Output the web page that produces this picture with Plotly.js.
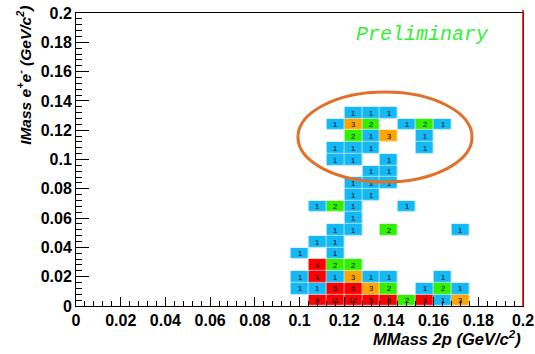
<!DOCTYPE html>
<html>
<head>
<meta charset="utf-8">
<script src="https://cdn.plot.ly/plotly-3.0.1.min.js"></script>
<style>html,body{margin:0;padding:0;background:#fff;}#chart{width:535px;height:354px;}</style>
</head>
<body>
<div id="chart"></div>
<script>
// Bin centres (GeV/c^2) of the filled region
const xCenters = [0.100, 0.108, 0.116, 0.124, 0.132, 0.140, 0.148, 0.156, 0.164, 0.172];
const yCenters = [0.004, 0.012, 0.020, 0.028, 0.036, 0.044, 0.052, 0.060, 0.068,
                  0.076, 0.084, 0.092, 0.100, 0.108, 0.116, 0.124, 0.132];
// Counts per y-bin row (bottom to top), one entry per x bin centre
const row00 = [null, 9, 11, 12, 5, 6, 2, 6, 1, 3];
const row01 = [1, 1, 6, 6, 3, 2, null, 1, 2, 1];
const row02 = [1, 4, 1, 3, 1, 1, null, null, 1, null];
const row03 = [null, 4, 2, 2, null, null, null, null, null, null];
const row04 = [1, null, 1, null, null, null, null, null, null, null];
const row05 = [null, 1, 1, null, null, null, null, null, null, null];
const row06 = [null, null, 1, 1, null, 2, null, null, null, 1];
const row07 = [null, null, null, 1, null, null, null, null, null, null];
const row08 = [null, 1, 2, 1, null, null, 1, null, null, null];
const row09 = [null, null, null, 1, 1, null, null, null, null, null];
const row10 = [null, null, null, 1, 1, 1, null, null, null, null];
const row11 = [null, null, null, null, 1, 1, null, null, null, null];
const row12 = [null, null, 1, 1, null, 1, null, null, null, null];
const row13 = [null, null, 1, 1, 1, null, null, 1, null, null];
const row14 = [null, null, null, 2, 1, 3, null, 1, null, null];
const row15 = [null, null, 1, 3, 2, null, 1, 2, 1, null];
const row16 = [null, null, null, 1, 1, 1, null, null, null, null];

const zRows = [row00, row01, row02, row03, row04, row05, row06, row07, row08,
               row09, row10, row11, row12, row13, row14, row15, row16];
const textRows = zRows.map(r => r.map(v => v === null ? '' : String(v)));

const cBlue = '#13B8F5', cGreen = '#33F000', cOrange = '#FFA500', cRed = '#FF0000';

const heat = {
  type: 'heatmap',
  x: xCenters,
  y: yCenters,
  z: zRows,
  text: textRows,
  texttemplate: '%{text}',
  textfont: {family: 'Liberation Sans, Arial, sans-serif', size: 7.5, color: '#000'},
  zmin: 0.5, zmax: 4.5,
  colorscale: [[0, cBlue], [0.25, cBlue], [0.25, cGreen], [0.5, cGreen],
               [0.5, cOrange], [0.75, cOrange], [0.75, cRed], [1, cRed]],
  showscale: false,
  xgap: 0.6, ygap: 0.6,
  hoverinfo: 'skip'
};

const tickFont = {family: 'Liberation Sans, Arial, sans-serif', size: 16, color: '#000', weight: 'bold'};

const layout = {
  width: 535, height: 354,
  margin: {l: 76, r: 12, t: 13, b: 48},
  paper_bgcolor: '#fff', plot_bgcolor: '#fff',
  showlegend: false,
  xaxis: {
    range: [0, 0.2], dtick: 0.02, tick0: 0,
    ticks: 'inside', ticklen: 9, tickwidth: 1, tickcolor: '#000',
    minor: {ticks: 'inside', ticklen: 5, dtick: 0.004, tickcolor: '#000', tickwidth: 1},
    showgrid: false, zeroline: false,
    showline: true, linecolor: '#000', linewidth: 1, mirror: true,
    tickfont: tickFont, fixedrange: true
  },
  yaxis: {
    range: [0, 0.2], dtick: 0.02, tick0: 0,
    ticks: 'inside', ticklen: 13, tickwidth: 1, tickcolor: '#000',
    minor: {ticks: 'inside', ticklen: 6, dtick: 0.004, tickcolor: '#000', tickwidth: 1},
    showgrid: false, zeroline: false,
    showline: true, linecolor: '#000', linewidth: 1, mirror: true,
    tickfont: tickFont, fixedrange: true
  },
  shapes: [
    {type: 'line', xref: 'paper', yref: 'paper', x0: 1, x1: 1, y0: 0, y1: 1.01,
     line: {color: '#E00000', width: 1.5}},
    {type: 'circle', xref: 'x', yref: 'y', x0: 0.0993, x1: 0.1772, y0: 0.0846, y1: 0.146,
     line: {color: '#E2702A', width: 3}}
  ],
  annotations: [
    {text: '<b><i>MMass 2p (GeV/c<sup>2</sup>)</i></b>', xref: 'paper', yref: 'paper',
     x: 1, y: -0.108, xanchor: 'right', yanchor: 'middle', showarrow: false,
     font: {family: 'Liberation Sans, Arial, sans-serif', size: 16.5, color: '#000'}},
    {text: '<b><i>IMass e<sup>+</sup>e<sup>-</sup> (GeV/c<sup>2</sup>)</i></b>', xref: 'paper', yref: 'paper',
     x: -0.116, y: 1.03, xanchor: 'center', yanchor: 'top', textangle: -90, showarrow: false,
     font: {family: 'Liberation Sans, Arial, sans-serif', size: 15.5, color: '#000'}},
    {text: '<i>Preliminary</i>', xref: 'paper', yref: 'paper',
     x: 0.776, y: 0.925, xanchor: 'center', yanchor: 'middle', showarrow: false,
     font: {family: 'Liberation Mono, Courier New, monospace', size: 20, color: '#33EE33'}}
  ]
};

Plotly.newPlot('chart', [heat], layout, {staticPlot: true, displayModeBar: false});
</script>
</body>
</html>
